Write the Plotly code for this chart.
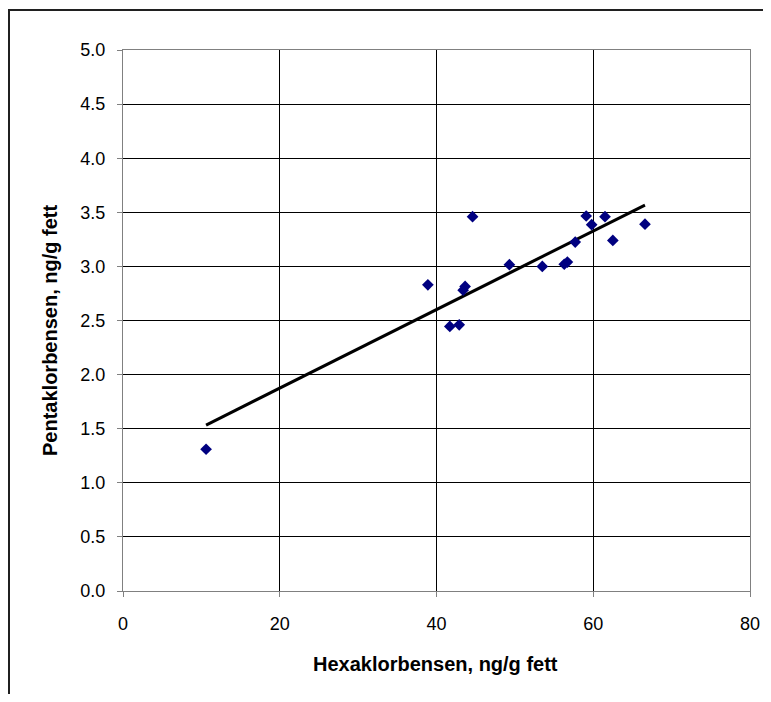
import numpy as np
import plotly.graph_objects as go

# Data
hcb = [38.9, 44.6, 43.4, 43.65, 41.7, 42.9, 49.3, 53.5, 56.3, 56.7, 57.7, 59.1, 59.8, 61.5, 62.5, 66.6, 10.6]
pecb = [2.83, 3.46, 2.78, 2.815, 2.445, 2.46, 3.016, 3.00, 3.02, 3.04, 3.225, 3.466, 3.386, 3.46, 3.24, 3.39, 1.31]

x_ticks = [0, 20, 40, 60, 80]
y_ticks = [0.0, 0.5, 1.0, 1.5, 2.0, 2.5, 3.0, 3.5, 4.0, 4.5, 5.0]

x_title = "Hexaklorbensen, ng/g fett"
y_title = "Pentaklorbensen, ng/g fett"

# Linear trend line (least squares) over the data range
slope, intercept = np.polyfit(hcb, pecb, 1)
tx = [min(hcb), max(hcb)]
ty = [slope * v + intercept for v in tx]

# page body has an 8px margin; figure sized/positioned to compensate
OFF = 8
W, H = 763, 686
L, R, T, B = 115, 21, 42, 103
pw, ph = W - L - R, H - T - B

def px(page_x):
    return (page_x - OFF - L) / pw

def py(page_y):
    return (H - B - (page_y - OFF)) / ph

fig = go.Figure()
fig.add_trace(go.Scatter(x=tx, y=ty, mode="lines",
                         line=dict(color="black", width=3), showlegend=False, hoverinfo="skip"))
fig.add_trace(go.Scatter(x=hcb, y=pecb, mode="markers",
                         marker=dict(symbol="diamond", size=9, color="#000080", line=dict(width=0)),
                         showlegend=False))

font = "Liberation Sans, Arial, sans-serif"
fig.update_layout(
    width=W, height=H,
    margin=dict(l=L, r=R, t=T, b=B, autoexpand=False),
    paper_bgcolor="white", plot_bgcolor="white",
    font=dict(family=font, size=18, color="black"),
    xaxis=dict(range=[0, 80], tickvals=x_ticks, ticktext=[str(v) for v in x_ticks],
               showgrid=True, gridcolor="black", gridwidth=1, zeroline=False,
               showline=True, linecolor="#808080", linewidth=1, mirror=True,
               ticks="outside", ticklen=5, tickcolor="#808080",
               ticklabelstandoff=11, tickfont=dict(size=18)),
    yaxis=dict(range=[0, 5], tickvals=y_ticks, ticktext=[f"{v:.1f}" for v in y_ticks],
               showgrid=True, gridcolor="black", gridwidth=1, zeroline=False,
               showline=True, linecolor="#808080", linewidth=1, mirror=True,
               ticks="outside", ticklen=5, tickcolor="#808080",
               ticklabelstandoff=8, tickfont=dict(size=18)),
    annotations=[
        dict(text=f"<b>{x_title}</b>", xref="paper", yref="paper", x=px(435), y=py(664),
             xanchor="center", yanchor="middle", showarrow=False, font=dict(size=20)),
        dict(text=f"<b>{y_title}</b>", xref="paper", yref="paper", x=px(50), y=py(331),
             xanchor="center", yanchor="middle", showarrow=False, textangle=-90, font=dict(size=20)),
    ],
    shapes=[
        dict(type="path", xref="paper", yref="paper",
             path=f"M {px(9)} {py(720)} L {px(9)} {py(10)} L {px(790)} {py(10)}",
             line=dict(color="#202020", width=2)),
    ],
)

fig.write_html("out.html")
